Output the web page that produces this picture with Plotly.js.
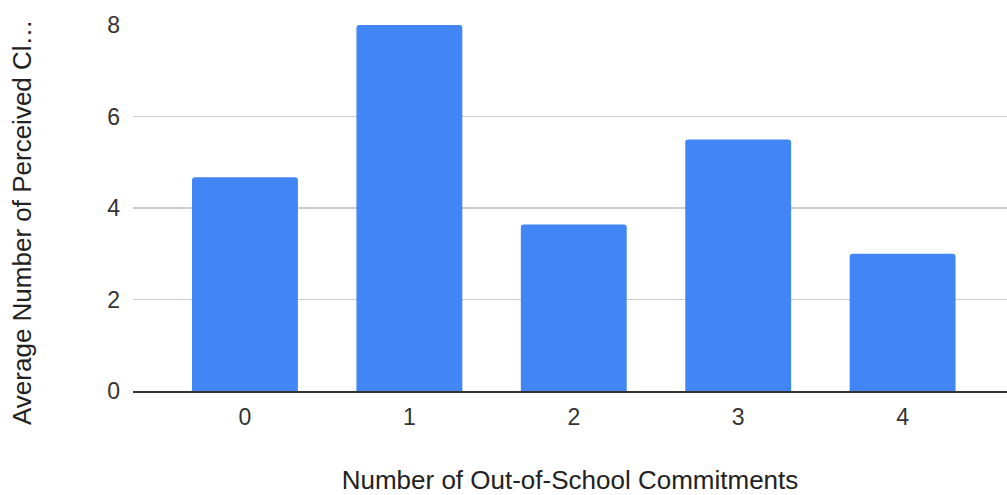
<!DOCTYPE html>
<html>
<head>
<meta charset="utf-8">
<script src="https://cdn.plot.ly/plotly-3.0.1.min.js"></script>
<style>html,body{margin:0;padding:0;background:#fff;}#chart{width:1007px;height:495px;}</style>
</head>
<body>
<div id="chart"></div>
<script>
const categories = ["0", "1", "2", "3", "4"];
const values = [4.67, 8, 3.64, 5.5, 3];
const yTickValues = [0, 2, 4, 6, 8];
const xTitle = "Number of Out-of-School Commitments";
const yTitle = "Average Number of Perceived Cl\u2026";

const font = "Arial, 'Liberation Sans', sans-serif";

Plotly.newPlot("chart", [{
  type: "bar",
  x: categories.map((c, i) => i),
  y: values,
  width: 0.644,
  marker: {color: "#4285F4", cornerradius: 3},
  hoverinfo: "x+y"
}], {
  width: 1007, height: 495,
  margin: {l: 133, r: 0, t: 25, b: 104},
  paper_bgcolor: "#fff", plot_bgcolor: "#fff",
  showlegend: false,
  font: {family: font, color: "#333", size: 22},
  xaxis: {
    range: [-0.681, 4.635],
    tickvals: categories.map((c, i) => i),
    ticktext: categories,
    showgrid: false, zeroline: false,
    showline: true, linecolor: "#333", linewidth: 2,
    ticks: "", ticklabelstandoff: 4,
    tickfont: {family: font, size: 23, color: "#333"},
    title: {text: xTitle, font: {family: font, size: 26, color: "#222"}, standoff: 43},
    automargin: false, fixedrange: true
  },
  yaxis: {
    range: [0, 8],
    tickvals: yTickValues,
    showgrid: true, gridcolor: "#cccccc", gridwidth: 1.5,
    zeroline: false, showline: false, ticks: "",
    ticklabelstandoff: 12,
    tickfont: {family: font, size: 23, color: "#333"},
    automargin: false, fixedrange: true
  },
  annotations: [{
    text: yTitle, textangle: -90, showarrow: false,
    xref: "paper", yref: "paper",
    x: (22 - 133) / 874, y: (391 - 222) / 366,
    xanchor: "center", yanchor: "middle",
    font: {family: font, size: 26, color: "#222"}
  }]
}, {displayModeBar: false, staticPlot: true});
</script>
</body>
</html>
